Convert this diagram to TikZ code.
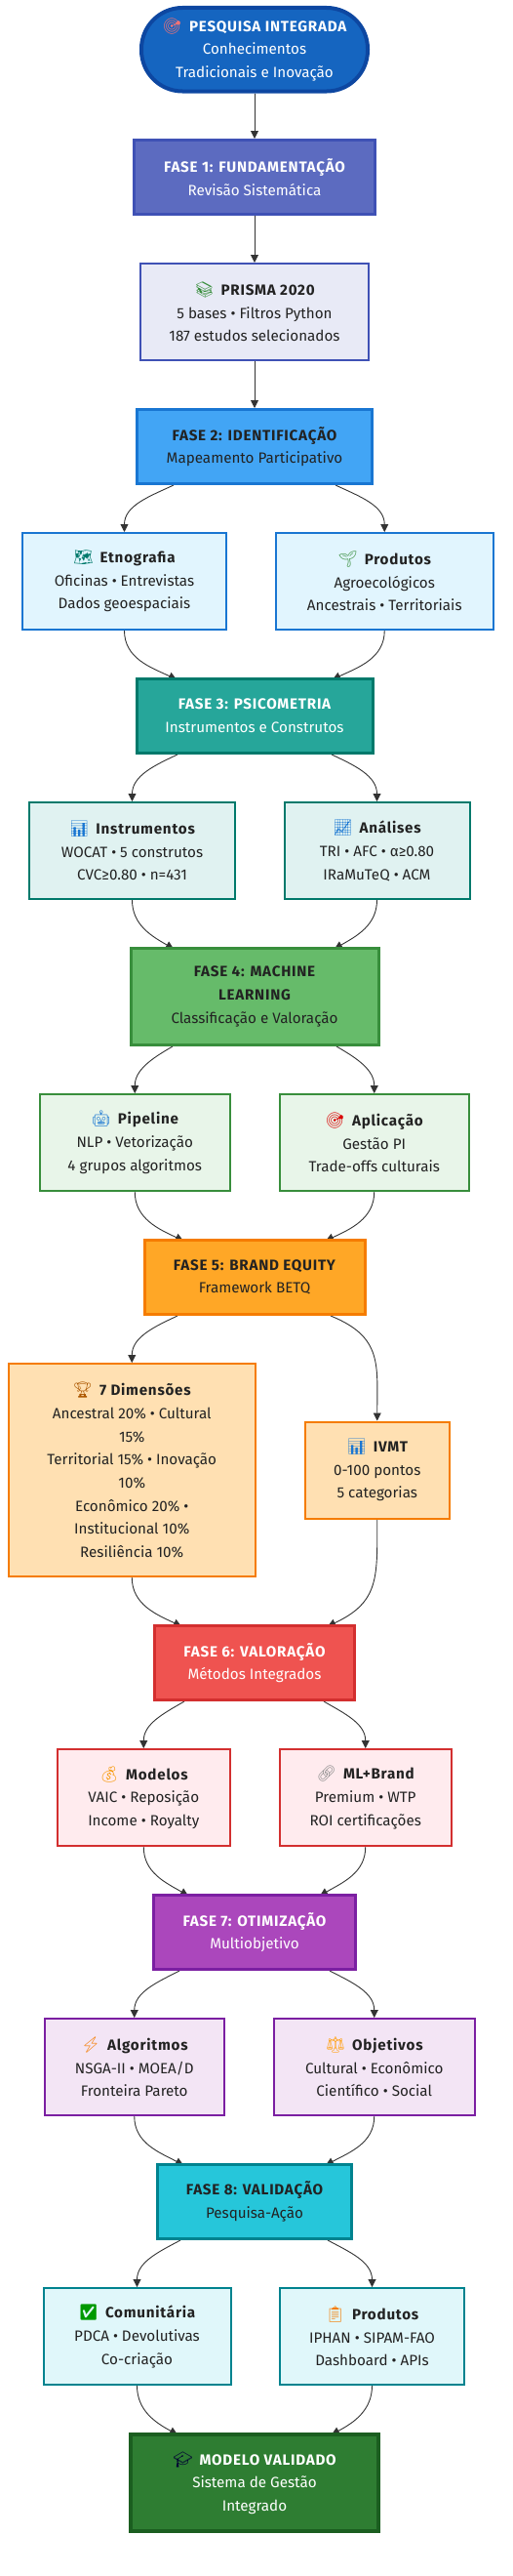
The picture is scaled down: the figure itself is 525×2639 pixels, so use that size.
\documentclass[tikz,border=0pt]{standalone}
\usepackage{fontspec}
\setmainfont{Fira Sans}
\newfontfamily\emojifont{Noto Emoji}
\usetikzlibrary{arrows.meta,positioning,backgrounds}
\definecolor{inicio}{HTML}{0D47A1}
\definecolor{iniciofill}{HTML}{1565C0}
\definecolor{indigo}{HTML}{3F51B5}
\definecolor{indigofill}{HTML}{5C6BC0}
\definecolor{indigoleve}{HTML}{E8EAF6}
\definecolor{azul}{HTML}{1976D2}
\definecolor{azulfill}{HTML}{42A5F5}
\definecolor{azulleve}{HTML}{E1F5FE}
\definecolor{teal}{HTML}{00796B}
\definecolor{tealfill}{HTML}{26A69A}
\definecolor{tealleve}{HTML}{E0F2F1}
\definecolor{verde}{HTML}{388E3C}
\definecolor{verdefill}{HTML}{66BB6A}
\definecolor{verdeleve}{HTML}{E8F5E9}
\definecolor{laranja}{HTML}{F57C00}
\definecolor{laranjafill}{HTML}{FFA726}
\definecolor{laranjaleve}{HTML}{FFE0B2}
\definecolor{vermelho}{HTML}{D32F2F}
\definecolor{vermelhofill}{HTML}{EF5350}
\definecolor{vermelholeve}{HTML}{FFEBEE}
\definecolor{roxo}{HTML}{7B1FA2}
\definecolor{roxofill}{HTML}{AB47BC}
\definecolor{roxoleve}{HTML}{F3E5F5}
\definecolor{ciano}{HTML}{00838F}
\definecolor{cianofill}{HTML}{26C6DA}
\definecolor{cianoleve}{HTML}{E0F7FA}
\definecolor{final}{HTML}{1B5E20}
\definecolor{finalfill}{HTML}{2E7D32}
\definecolor{linha}{HTML}{333333}
\definecolor{texto}{HTML}{222222}
\newcommand{\icone}[2]{\textcolor{#1}{\emojifont\fontsize{16}{23.7}\selectfont #2}\hspace{7pt}}
\newcommand{\titulo}[1]{{\bfseries\addfontfeature{LetterSpace=5}#1}}

\begin{document}
\begin{tikzpicture}[x=1pt, y=1pt, node distance=48pt, every node/.style={font=\fontsize{15.2}{23.7}\selectfont, align=center, inner sep=2pt}]
\tikzset{
  fase/.style={draw, line width=3pt, minimum height=76pt},
  caixa/.style={draw, line width=2pt, text=texto, minimum height=99pt},
  liga/.style={-{Triangle[length=8pt,width=8pt]}, line width=0.9pt, draw=linha},
}
\useasboundingbox (0,0) rectangle (525,-2639);
\node[draw=inicio, line width=4pt, fill=iniciofill, text=white, rounded corners=42pt, minimum width=232pt, minimum height=85.5pt] (ini) at (261,-50.75) {\icone{red!55!white}{🎯}\titulo{PESQUISA INTEGRADA}\\Conhecimentos~\\Tradicionais e Inovação};
\node[fase, draw=indigo, fill=indigofill, text=white, minimum width=247.5pt, below=46.5pt of ini] (f1) {\titulo{FASE 1: FUNDAMENTAÇÃO}\\Revisão Sistemática};
\node[caixa, draw=indigo, fill=indigoleve, minimum width=234pt, below=of f1] (prisma) {\icone{verde}{📚}\titulo{PRISMA 2020}\\5 bases • Filtros Python\\187 estudos selecionados};
\node[fase, draw=azul, fill=azulfill, text=texto, minimum width=241pt, below=of prisma] (f2) {\titulo{FASE 2: IDENTIFICAÇÃO}\\Mapeamento Participativo};
\node[caixa, draw=azul, fill=azulleve, minimum width=209pt, below=of f2, xshift=-133.5pt] (etno) {\icone{teal}{🗺}\titulo{Etnografia}\\Oficinas • Entrevistas\\Dados geoespaciais};
\node[caixa, draw=azul, fill=azulleve, minimum width=223.5pt, right=48.5pt of etno] (prod) {\icone{verde}{🌱}\titulo{Produtos}\\Agroecológicos\\Ancestrais • Territoriais};
\node[fase, draw=teal, fill=tealfill, text=white, minimum width=242pt, below=of etno, xshift=133.5pt] (f3) {\titulo{FASE 3: PSICOMETRIA}\\Instrumentos e Construtos};
\node[caixa, draw=teal, fill=tealleve, minimum width=211pt, below=of f3, xshift=-125.5pt] (instr) {\icone{azul}{📊}\titulo{Instrumentos}\\WOCAT • 5 construtos\\CVC≥0.80 • n=431};
\node[caixa, draw=teal, fill=tealleve, minimum width=190pt, right=48.5pt of instr] (anal) {\icone{azul}{📈}\titulo{Análises}\\TRI • AFC • α≥0.80\\IRaMuTeQ • ACM};
\node[fase, draw=verde, fill=verdefill, text=texto, minimum width=254pt, minimum height=99pt, below=of instr, xshift=125.5pt] (f4) {\titulo{FASE 4: MACHINE~}\\\titulo{LEARNING}\\Classificação e Valoração};
\node[caixa, draw=verde, fill=verdeleve, minimum width=195.5pt, below=of f4, xshift=-122.75pt] (pipe) {\icone{azul}{🤖}\titulo{Pipeline}\\NLP • Vetorização\\4 grupos algoritmos};
\node[caixa, draw=verde, fill=verdeleve, minimum width=194.5pt, right=48.5pt of pipe] (aplic) {\icone{red!85!black}{🎯}\titulo{Aplicação}\\Gestão PI\\Trade-offs culturais};
\node[fase, draw=laranja, fill=laranjafill, text=texto, minimum width=226pt, below=of pipe, xshift=122.75pt] (f5) {\titulo{FASE 5: BRAND EQUITY}\\Framework BETQ};
\node[caixa, draw=laranja, fill=laranjaleve, minimum width=253.5pt, minimum height=218pt, below=of f5, xshift=-125.75pt] (dim) {\icone{laranja!70!black}{🏆}\titulo{7 Dimensões}\\Ancestral 20\% • Cultural~\\15\%\\Territorial 15\% • Inovação~\\10\%\\Econômico 20\% •~\\Institucional 10\%\\Resiliência 10\%};
\node[caixa, draw=laranja, fill=laranjaleve, minimum width=147.5pt, right=49pt of dim] (ivmt) {\icone{azul}{📊}\titulo{IVMT}\\0-100 pontos\\5 categorias};
\node[fase, draw=vermelho, fill=vermelhofill, text=white, minimum width=205pt, below=of dim, xshift=125.75pt] (f6) {\titulo{FASE 6: VALORAÇÃO}\\Métodos Integrados};
\node[caixa, draw=vermelho, fill=vermelholeve, minimum width=177.5pt, below=of f6, xshift=-113.75pt] (model) {\icone{laranja!80!yellow}{💰}\titulo{Modelos}\\VAIC • Reposição\\Income • Royalty};
\node[caixa, draw=vermelho, fill=vermelholeve, minimum width=176.5pt, right=48.5pt of model] (mlb) {\icone{black!45}{🔗}\titulo{ML+Brand}\\Premium • WTP\\ROI certificações};
\node[fase, draw=roxo, fill=roxofill, text=white, minimum width=206.5pt, below=of model, xshift=113.75pt] (f7) {\titulo{FASE 7: OTIMIZAÇÃO}\\Multiobjetivo};
\node[caixa, draw=roxo, fill=roxoleve, minimum width=184.5pt, below=of f7, xshift=-123.25pt] (algo) {\icone{laranja}{⚡}\titulo{Algoritmos}\\NSGA-II • MOEA/D\\Fronteira Pareto};
\node[caixa, draw=roxo, fill=roxoleve, minimum width=206.5pt, right=48.5pt of algo] (obj) {\icone{laranjafill}{⚖}\titulo{Objetivos}\\Cultural • Econômico\\Científico • Social};
\node[fase, draw=ciano, fill=cianofill, text=texto, minimum width=199pt, below=of algo, xshift=123.25pt] (f8) {\titulo{FASE 8: VALIDAÇÃO}\\Pesquisa-Ação};
\node[caixa, draw=ciano, fill=cianoleve, minimum width=192pt, below=of f8, xshift=-120.5pt] (com) {\icone{green!60!black}{✅}\titulo{Comunitária}\\PDCA • Devolutivas\\Co-criação};
\node[caixa, draw=ciano, fill=cianoleve, minimum width=189pt, right=48.5pt of com] (prod2) {\icone{laranja}{📋}\titulo{Produtos}\\IPHAN • SIPAM-FAO\\Dashboard • APIs};
\node[draw=final, line width=4pt, fill=finalfill, text=white, minimum width=254pt, minimum height=99pt, below=of com, xshift=120.5pt] (fim) {\icone{black!80!blue}{🎓}\titulo{MODELO VALIDADO}\\Sistema de Gestão~\\Integrado};

% ligacoes por baixo das caixas
\begin{scope}[on background layer]
\draw[liga] (ini) -- (f1);
\draw[liga] (f1) -- (prisma);
\draw[liga] (prisma) -- (f2);
\draw[liga] ([xshift=-83pt]f2.south) to[out=205,in=90] (etno.north);
\draw[liga] ([xshift=83pt]f2.south) to[out=-25,in=90] (prod.north);
\draw[liga] (etno.south) to[out=-90,in=155] ([xshift=-80pt,yshift=-2pt]f3.north);
\draw[liga] (prod.south) to[out=-90,in=25] ([xshift=80pt,yshift=-2pt]f3.north);
\draw[liga] ([xshift=-79pt]f3.south) to[out=205,in=90] (instr.north);
\draw[liga] ([xshift=79pt]f3.south) to[out=-25,in=90] (anal.north);
\draw[liga] (instr.south) to[out=-90,in=150] ([xshift=-83pt,yshift=-2pt]f4.north);
\draw[liga] (anal.south) to[out=-90,in=30] ([xshift=82pt,yshift=-2pt]f4.north);
\draw[liga] ([xshift=-84pt]f4.south) to[out=210,in=90] (pipe.north);
\draw[liga] ([xshift=84pt]f4.south) to[out=-30,in=90] (aplic.north);
\draw[liga] (pipe.south) to[out=-90,in=155] ([xshift=-73pt,yshift=-2pt]f5.north);
\draw[liga] (aplic.south) to[out=-90,in=25] ([xshift=73pt,yshift=-2pt]f5.north);
\draw[liga] ([xshift=-79pt]f5.south) to[out=205,in=90] (dim.north);
\draw[liga] ([xshift=78pt]f5.south) to[out=-22,in=90,looseness=1.25] (ivmt.north);
\draw[liga] (dim.south) to[out=-90,in=155] ([xshift=-75pt,yshift=-2pt]f6.north);
\draw[liga] (ivmt.south) to[out=-90,in=25,looseness=1.25] ([xshift=75pt,yshift=-2pt]f6.north);
\draw[liga] ([xshift=-72pt]f6.south) to[out=210,in=90] (model.north);
\draw[liga] ([xshift=71pt]f6.south) to[out=-30,in=90] (mlb.north);
\draw[liga] (model.south) to[out=-90,in=150] ([xshift=-68pt,yshift=-2pt]f7.north);
\draw[liga] (mlb.south) to[out=-90,in=30] ([xshift=67pt,yshift=-2pt]f7.north);
\draw[liga] ([xshift=-77pt]f7.south) to[out=207,in=90] (algo.north);
\draw[liga] ([xshift=77pt]f7.south) to[out=-27,in=90] (obj.north);
\draw[liga] (algo.south) to[out=-90,in=152] ([xshift=-73pt,yshift=-2pt]f8.north);
\draw[liga] (obj.south) to[out=-90,in=28] ([xshift=73pt,yshift=-2pt]f8.north);
\draw[liga] ([xshift=-76pt]f8.south) to[out=208,in=90] (com.north);
\draw[liga] ([xshift=75pt]f8.south) to[out=-28,in=90] (prod2.north);
\draw[liga] (com.south) to[out=-90,in=152] ([xshift=-79pt,yshift=-2pt]fim.north);
\draw[liga] (prod2.south) to[out=-90,in=28] ([xshift=79pt,yshift=-2pt]fim.north);
\end{scope}
\end{tikzpicture}
\end{document}
